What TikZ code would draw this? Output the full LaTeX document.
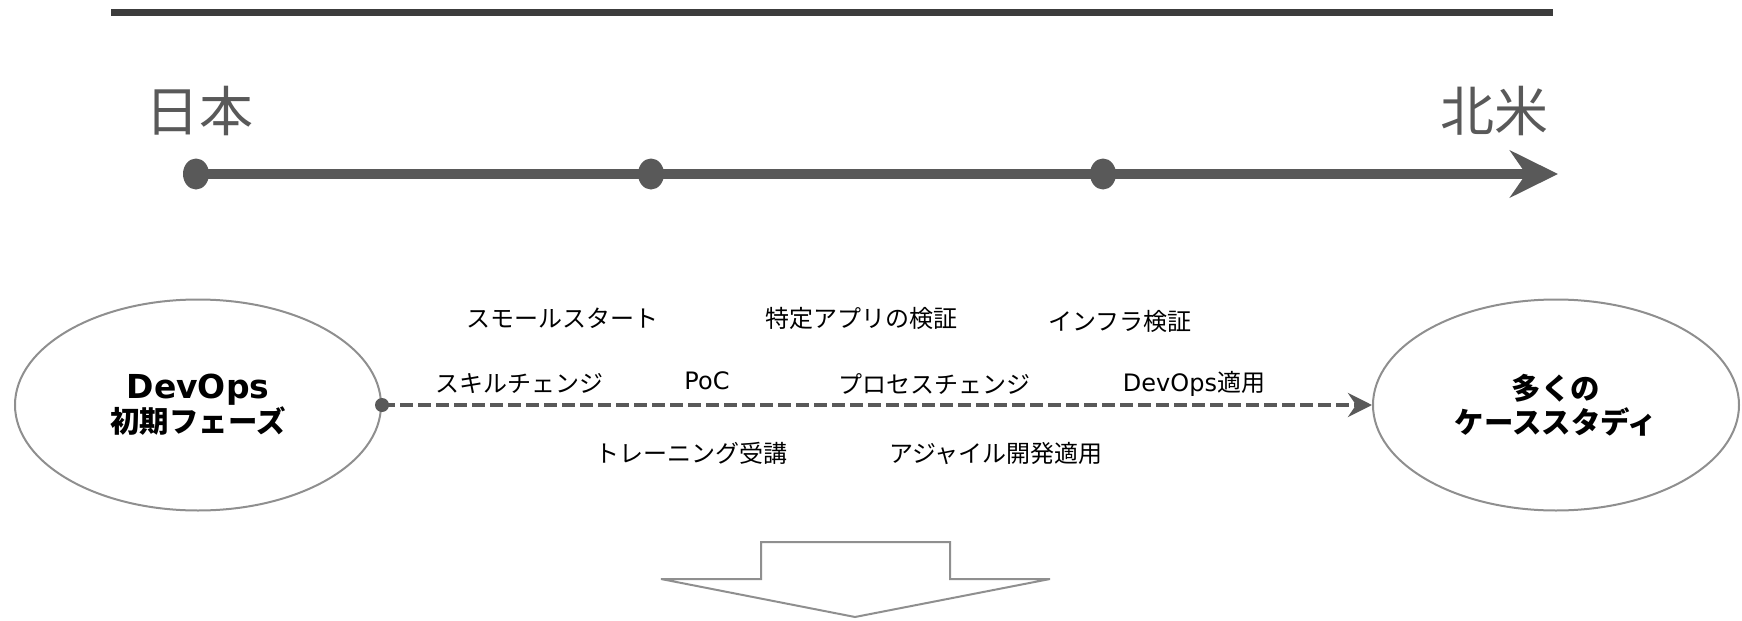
\documentclass[tikz,border=0pt]{standalone}
\usepackage{fontspec}
\setmainfont{Noto Sans CJK JP}
\newfontfamily\latinfont{DejaVu Sans}
\usetikzlibrary{shapes.geometric, arrows.meta}

\definecolor{bargray}{HTML}{3C3C3C}
\definecolor{tlgray}{HTML}{595959}
\definecolor{ellgray}{HTML}{8F8F8F}

\begin{document}
\begin{tikzpicture}
            [x=0.5pt, y=-0.5pt, every node/.style={inner sep=0pt},
             phase/.style={shape=ellipse, draw=ellgray, line width=1pt, minimum width=183pt, minimum height=105.5pt, align=center, font=\fontsize{14.7}{17}\selectfont\bfseries},
             itemtext/.style={font=\fontsize{12}{14}\selectfont},
             region/.style={text=tlgray, font=\fontsize{27}{30}\selectfont},
             tldot/.style={shape=ellipse, fill=tlgray, minimum width=13pt, minimum height=15.5pt}]
            \useasboundingbox (0, 0) rectangle (1742, 621);

            \coordinate (barleft) at (111, 12);
            \coordinate (barright) at (1553, 12);
            \draw[bargray, line width=3.5pt] (barleft) -- (barright);

            \node[region] (japan) at (199, 111) {日本};
            \node[region] (namerica) at (1494, 111) {北米};

            \node[tldot] (t1) at (196, 174) {};
            \node[tldot] (t2) at (651, 174) {};
            \node[tldot] (t3) at (1103, 174) {};
            \coordinate (tlend) at (1558, 174);
            \draw[tlgray, line width=5pt, -{Stealth[length=24pt, width=23.5pt, inset=8pt]}] (t1.center) -- (tlend);

            \node[phase] (early) at (198, 405) {{\latinfont\fontsize{16.5}{17}\selectfont\bfseries DevOps}\\初期フェーズ};
            \node[phase] (cases) at (1556, 405) {多くの\\ケーススタディ};

            \draw[tlgray, line width=2pt, dash pattern=on 6.5pt off 2.5pt, -{Stealth[length=12pt, width=12pt, inset=4pt]}] (early.east) -- (cases.west);
            \fill[tlgray] (early.east) circle (3.5pt);

            \node[itemtext] (smallstart) at (562, 318) {スモールスタート};
            \node[itemtext] (appcheck) at (861, 318) {特定アプリの検証};
            \node[itemtext] (infracheck) at (1120, 321) {インフラ検証};
            \node[itemtext] (skill) at (519, 384) {スキルチェンジ};
            \node[itemtext] (poc) at (707, 381) {\latinfont PoC};
            \node[itemtext] (process) at (934, 384) {プロセスチェンジ};
            \node[itemtext] (devopsuse) at (1194, 384) {{\latinfont DevOps}適用};
            \node[itemtext] (training) at (691, 453) {トレーニング受講};
            \node[itemtext] (agile) at (996, 453) {アジャイル開発適用};

            \draw[ellgray, line width=1pt, fill=white] (761, 542) -- (950, 542) -- (950, 579) -- (1050, 579) -- (855, 617) -- (661, 579) -- (761, 579) -- cycle;
        \end{tikzpicture}
\end{document}
